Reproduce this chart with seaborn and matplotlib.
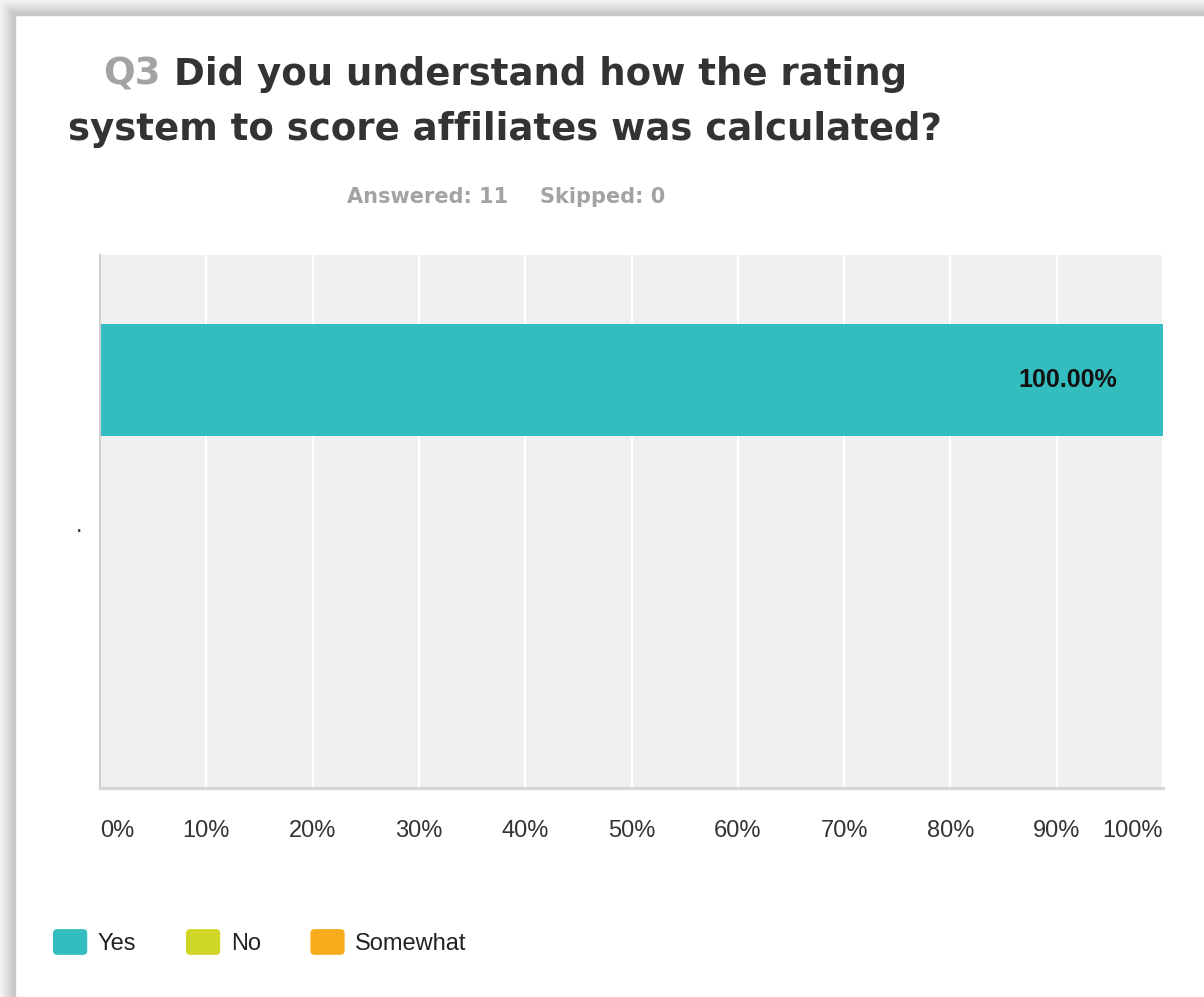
import numpy as np
import pandas as pd
import seaborn as sns
import matplotlib.pyplot as plt
from matplotlib.patches import Rectangle, FancyBboxPatch
from matplotlib.legend_handler import HandlerPatch

# dados
categorias = ["."]
respostas = ["Yes", "No", "Somewhat"]
percentuais = [100.0, 0.0, 0.0]
cores = ["#33bdbf", "#d0d625", "#f7ac1e"]
ticks_x = [0, 10, 20, 30, 40, 50, 60, 70, 80, 90, 100]
rotulos_x = [f"{t}%" for t in ticks_x]
respondidas = 11
puladas = 0

sns.set_theme(style="whitegrid")
plt.rcParams["font.family"] = ["Liberation Sans", "DejaVu Sans"]


# quadradinhos arredondados na legenda
class HandlerArredondado(HandlerPatch):
    def create_artists(self, legend, orig_handle, xdescent, ydescent,
                       width, height, fontsize, trans):
        p = FancyBboxPatch((-xdescent, -ydescent), width, height,
                           boxstyle="round,pad=0,rounding_size=3",
                           facecolor=orig_handle.get_facecolor(),
                           edgecolor="none", transform=trans)
        return [p]


fig = plt.figure(figsize=(12.04, 9.97), dpi=100)
fig.patch.set_facecolor("white")
ax = fig.add_axes([100 / 1204, 1 - 788 / 997, 1063 / 1204, 533 / 997])
ax.set_facecolor("#efefef")

# barras empilhadas: desenha a soma acumulada de trás para frente
acumulado = np.cumsum(percentuais)
for i in range(len(respostas) - 1, -1, -1):
    df = pd.DataFrame({"cat": categorias, "valor": [acumulado[i]]})
    sns.barplot(data=df, x="valor", y="cat", color=cores[i], width=0.8,
                orient="h", ax=ax, saturation=1, linewidth=0)

# rótulo do valor
for i, p in enumerate(percentuais):
    if p > 0:
        ax.annotate(f"{p:.2f}%", xy=(acumulado[i], 0), xytext=(-33, 0),
                    textcoords="offset points", ha="right", va="center",
                    fontsize=18, fontweight="bold", color="#111111")

ax.set_xlim(0, 100)
ax.set_ylim(2.935, -0.9)
ax.set_xticks(ticks_x)
ax.set_xticklabels(rotulos_x, fontsize=17, color="#333333")
labs = ax.get_xticklabels()
labs[0].set_ha("left")
labs[-1].set_ha("right")
ax.set_yticks([1.03])
ax.set_yticklabels(categorias, fontsize=17, color="#333333")
ax.tick_params(axis="x", length=0, pad=23)
ax.tick_params(axis="y", length=0, pad=13)
ax.set_xlabel("")
ax.set_ylabel("")
ax.grid(axis="x", color="white", linewidth=1.6)
ax.grid(axis="y", visible=False)
ax.set_axisbelow(True)
for s in ["top", "right"]:
    ax.spines[s].set_visible(False)
ax.spines["left"].set_color("#cfcfcf")
ax.spines["left"].set_linewidth(1.5)
ax.spines["bottom"].set_color("#d6d6d6")
ax.spines["bottom"].set_linewidth(2.2)

# legenda
proxies = [Rectangle((0, 0), 1, 1, facecolor=c) for c in cores]
fig.legend(proxies, respostas, loc="center left",
           bbox_to_anchor=(53 / 1204, 1 - 942 / 997), ncol=3, frameon=False,
           fontsize=17, handlelength=1.45, handleheight=1.3,
           handletextpad=0.45, columnspacing=2.1, borderpad=0,
           borderaxespad=0, labelcolor="#222222",
           handler_map={Rectangle: HandlerArredondado()})

# título com "Q3" em cinza
fig.canvas.draw()
r = fig.canvas.get_renderer()
fonte_t = ["DejaVu Sans"]
linha1 = "Did you understand how the rating"
linha2 = "system to score affiliates was calculated?"
fs_t = 26.7
cx = 505 / 1204
t_q = fig.text(0, 0, "Q3", fontsize=fs_t, fontweight="bold", color="#a3a3a3",
               family=fonte_t)
t_l1 = fig.text(0, 0, linha1, fontsize=fs_t, fontweight="bold",
                color="#333333", family=fonte_t)
wq = t_q.get_window_extent(r).width
wl = t_l1.get_window_extent(r).width
gap = 14
total = wq + gap + wl
x0 = cx * 1204 - total / 2
t_q.set_position((x0 / 1204, 1 - 85 / 997))
t_l1.set_position(((x0 + wq + gap) / 1204, 1 - 85 / 997))
t_q.set_va("baseline")
t_l1.set_va("baseline")
fig.text(cx, 1 - 140 / 997, linha2, fontsize=fs_t, fontweight="bold",
         color="#333333", ha="center", va="baseline", family=fonte_t)

# subtítulo
fig.text(508 / 1204, 1 - 197 / 997, f"Answered: {respondidas}", fontsize=15,
         fontweight="bold", color="#a3a3a3", ha="right", va="center",
         family=fonte_t)
fig.text(540 / 1204, 1 - 197 / 997, f"Skipped: {puladas}", fontsize=15,
         fontweight="bold", color="#a3a3a3", ha="left", va="center",
         family=fonte_t)

# moldura cinza (esquerda e topo)
tons = ["#f2f2f2", "#e9e9e9", "#dfdfdf", "#d3d3d3", "#c8c8c8"]
for k, c in enumerate(tons):
    fig.patches.append(Rectangle((k * 3 / 1204, 0), 3 / 1204, 1 - (k * 3) / 997,
                                 transform=fig.transFigure, color=c, zorder=0))
    fig.patches.append(Rectangle((k * 3 / 1204, 1 - (k + 1) * 3 / 997),
                                 1, 3 / 997, transform=fig.transFigure,
                                 color=c, zorder=0))

fig.savefig("out.png", dpi=100)
